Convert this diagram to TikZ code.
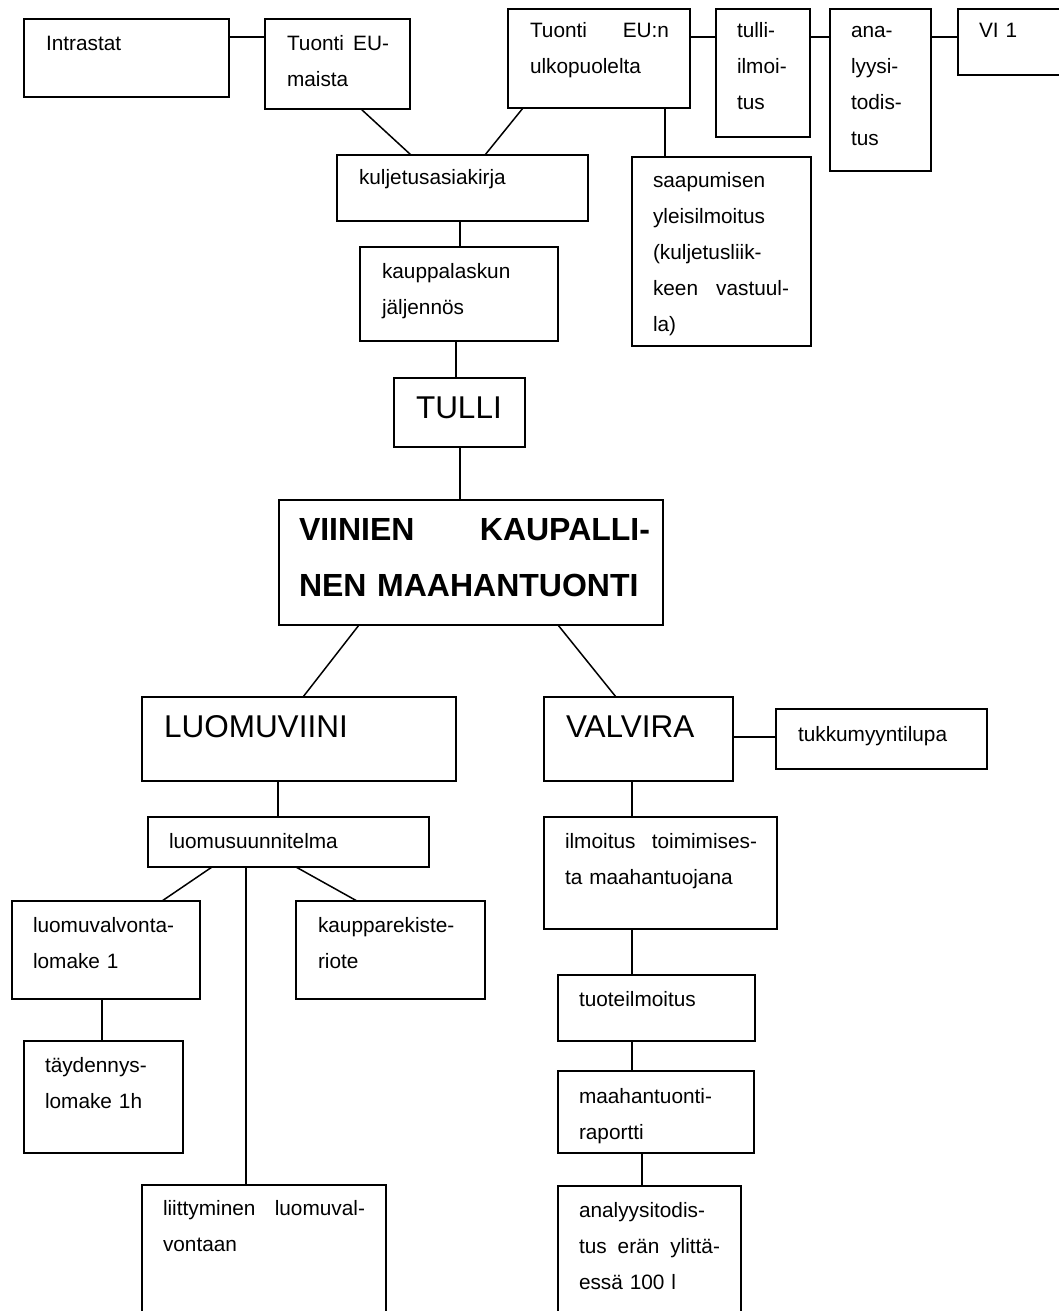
\documentclass[tikz,border=0pt]{standalone}
\usepackage{fontspec}
\setmainfont{Liberation Sans}
\newcommand\fsmall{\fontsize{20.8}{36}\selectfont}
\newcommand\fbig{\fontsize{31.5}{40}\selectfont}
\newcommand\fboldbig{\fontsize{32}{56}\selectfont\bfseries}
\newcommand\mystrut{\rule{0pt}{16pt}}
\newcommand\mybigstrut{\rule{0pt}{24pt}}
\newcommand\jline[2]{\leavevmode\makebox[#1pt][l]{#2}}
\tikzset{
  box/.style={draw, rectangle, line width=1.8pt, inner sep=0pt, outer sep=0pt, anchor=north west},
  txt/.style={inner sep=0pt, outer sep=0pt, anchor=north west, align=left, font=\fsmall},
  bigtxt/.style={txt, font=\fbig},
  boldtxt/.style={txt, font=\fboldbig},
  con/.style={line width=1.5pt},
}
% box: name, x1, y1, x2, y2
\newcommand\bx[5]{\node[box, minimum width={#4-#2}, minimum height={#5-#3}] (#1) at (#2,#3) {};}
\begin{document}
\begin{tikzpicture}[x=1pt,y=-1pt]
\useasboundingbox (0,0) rectangle (1059,1311);
\fill[white] (0,0) rectangle (1059,1311);
\clip (0,0) rectangle (1059,1311);

% boxes
\bx{intra}{24}{19}{229}{97}
\bx{eum}{265}{19}{410}{109}
\bx{euu}{508}{9}{690}{108}
\bx{tull}{716}{9}{810}{137}
\bx{ana}{830}{9}{931}{171}
\bx{vi}{958}{9}{1085}{75}
\bx{kulj}{337}{155}{588}{221}
\bx{saap}{632}{157}{811}{346}
\bx{kaup}{360}{247}{558}{341}
\bx{tulli}{394}{378}{525}{447}
\bx{viin}{279}{500}{663}{625}
\bx{luomu}{142}{697}{456}{781}
\bx{valv}{544}{697}{733}{781}
\bx{tukku}{776}{709}{987}{769}
\bx{lsuun}{148}{817}{429}{867}
\bx{lval}{12}{901}{200}{999}
\bx{krek}{296}{901}{485}{999}
\bx{tayd}{24}{1041}{183}{1153}
\bx{liit}{142}{1185}{386}{1340}
\bx{ilm}{544}{817}{777}{929}
\bx{tuote}{558}{975}{755}{1041}
\bx{maah}{558}{1071}{754}{1153}
\bx{anal}{558}{1186}{741}{1340}

% texts
\node[txt, text width=170pt] (intraT) at (46,{51-16}) {\mystrut Intrastat};
\node[txt, text width=118pt] (eumT) at (287,{51-16}) {\mystrut\jline{102}{Tuonti\hfill EU-}\\maista};
\node[txt, text width=155pt] (euuT) at (530,{38-16}) {\mystrut\jline{139}{Tuonti\hfill EU:n}\\ulkopuolelta};
\node[txt, text width=70pt] (tullT) at (737,{38-16}) {\mystrut tulli-\\ilmoi-\\tus};
\node[txt, text width=78pt] (anaT) at (851,{38-16}) {\mystrut ana-\\lyysi-\\todis-\\tus};
\node[txt, text width=75pt] (viT) at (979,{38-16}) {\mystrut VI 1};
\node[txt, text width=225pt] (kuljT) at (359,{184-16}) {\mystrut kuljetusasiakirja};
\node[txt, text width=155pt] (saapT) at (653,{187-16}) {\mystrut saapumisen\\yleisilmoitus\\(kuljetusliik-\\\jline{136}{keen\hfill vastuul-}\\la)};
\node[txt, text width=172pt] (kaupT) at (382,{278-16}) {\mystrut kauppalaskun\\jäljennös};
\node[bigtxt, text width=105pt] (tulliT) at (416,{418-24}) {\mybigstrut TULLI};
\node[boldtxt, text width=360pt] (viinT) at (299,{540-24}) {\mybigstrut\jline{351}{VIINIEN\hfill KAUPALLI-}\\NEN MAAHANTUONTI};
\node[bigtxt, text width=285pt] (luomuT) at (164,{737-24}) {\mybigstrut LUOMUVIINI};
\node[bigtxt, text width=162pt] (valvT) at (566,{737-24}) {\mybigstrut VALVIRA};
\node[txt, text width=185pt] (tukkuT) at (798,{741-16}) {\mystrut tukkumyyntilupa};
\node[txt, text width=256pt] (lsuunT) at (169,{848-16}) {\mystrut luomusuunnitelma};
\node[txt, text width=163pt] (lvalT) at (33,{932-16}) {\mystrut luomuvalvonta-\\lomake 1};
\node[txt, text width=163pt] (krekT) at (318,{932-16}) {\mystrut kaupparekiste-\\riote};
\node[txt, text width=134pt] (taydT) at (45,{1072-16}) {\mystrut täydennys-\\lomake 1h};
\node[txt, text width=218pt] (liitT) at (163,{1215-16}) {\mystrut\jline{202}{liittyminen\hfill luomuval-}\\vontaan};
\node[txt, text width=208pt] (ilmT) at (565,{848-16}) {\mystrut\jline{192}{ilmoitus\hfill toimimises-}\\ta maahantuojana};
\node[txt, text width=172pt] (tuoteT) at (579,{1006-16}) {\mystrut tuoteilmoitus};
\node[txt, text width=171pt] (maahT) at (579,{1103-16}) {\mystrut maahantuonti-\\raportti};
\node[txt, text width=158pt] (analT) at (579,{1217-16}) {\mystrut analyysitodis-\\\jline{141}{tus\hfill erän\hfill ylittä-}\\essä 100 l};

% connectors
\draw[con] (intra.east |- 0,37) -- (eum.west |- 0,37);
\draw[con] (euu.east |- 0,37) -- (tull.west |- 0,37);
\draw[con] (tull.east |- 0,37) -- (ana.west |- 0,37);
\draw[con] (ana.east |- 0,37) -- (vi.west |- 0,37);
\draw[con] (eum.south -| 361,0) -- (kulj.north -| 411,0);
\draw[con] (euu.south -| 523,0) -- (kulj.north -| 485,0);
\draw[con] (euu.south -| 665,0) -- (saap.north -| 665,0);
\draw[con] (kulj.south -| 460,0) -- (kaup.north -| 460,0);
\draw[con] (kaup.south -| 456,0) -- (tulli.north -| 456,0);
\draw[con] (tulli.south -| 460,0) -- (viin.north -| 460,0);
\draw[con] (viin.south -| 359,0) -- (luomu.north -| 303,0);
\draw[con] (viin.south -| 558,0) -- (valv.north -| 616,0);
\draw[con] (valv.east |- 0,737) -- (tukku.west |- 0,737);
\draw[con] (luomu.south -| 278,0) -- (lsuun.north -| 278,0);
\draw[con] (lsuun.south -| 212,0) -- (lval.north -| 162,0);
\draw[con] (lsuun.south -| 296,0) -- (krek.north -| 357,0);
\draw[con] (lsuun.south -| 246,0) -- (liit.north -| 246,0);
\draw[con] (lval.south -| 102,0) -- (tayd.north -| 102,0);
\draw[con] (valv.south -| 632,0) -- (ilm.north -| 632,0);
\draw[con] (ilm.south -| 632,0) -- (tuote.north -| 632,0);
\draw[con] (tuote.south -| 632,0) -- (maah.north -| 632,0);
\draw[con] (maah.south -| 642,0) -- (anal.north -| 642,0);
\end{tikzpicture}
\end{document}
